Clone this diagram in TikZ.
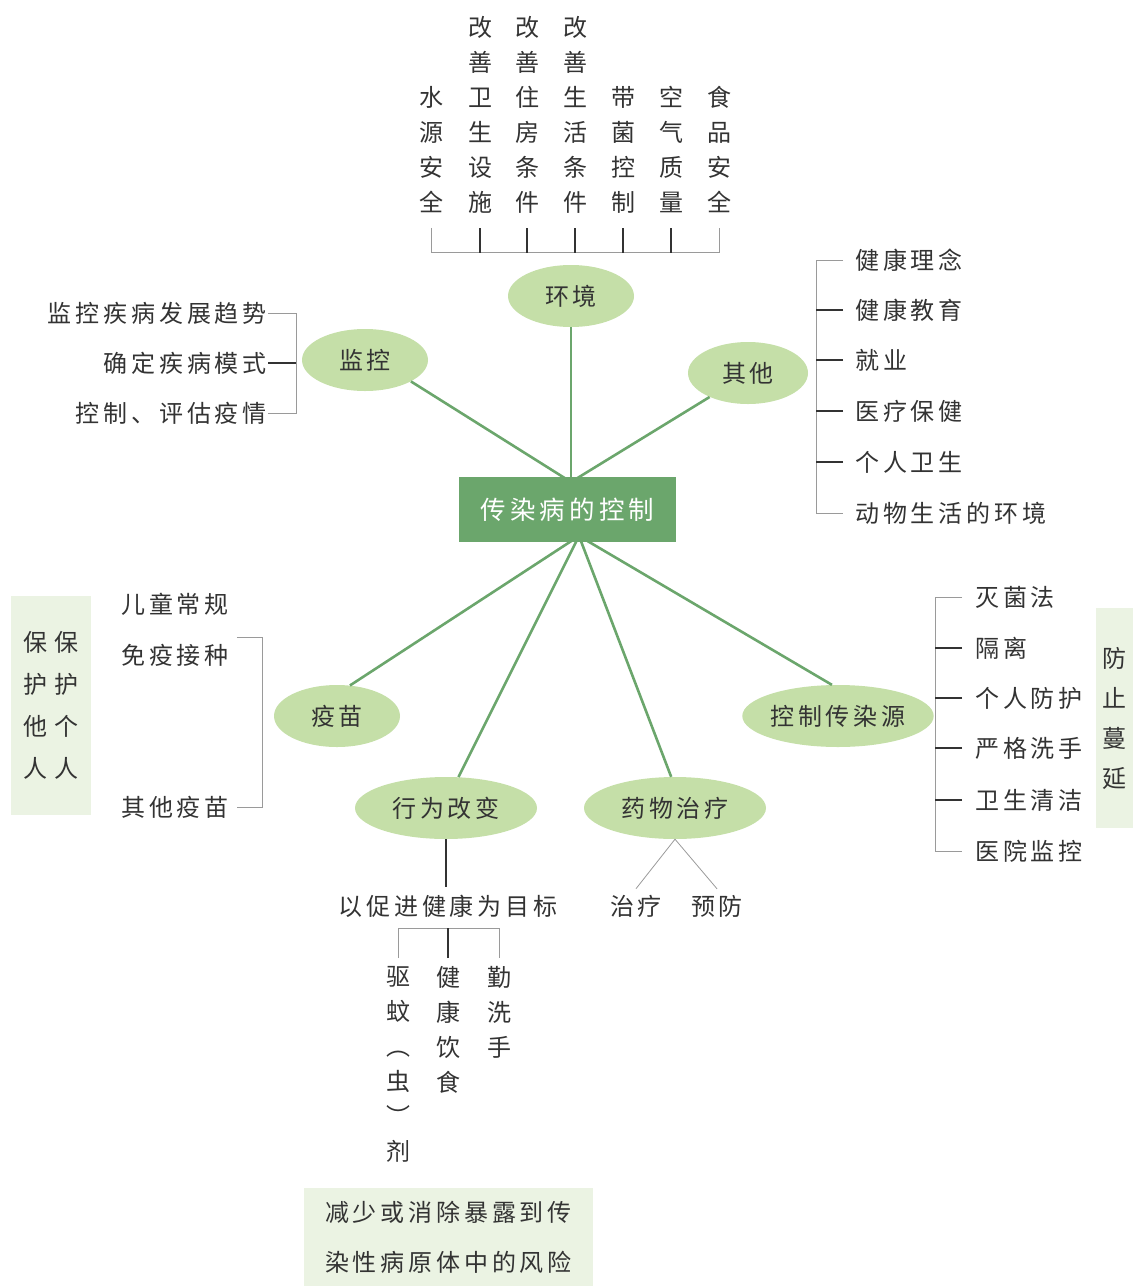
\documentclass[tikz,border=0pt]{standalone}
\usepackage{fontspec}
\setmainfont{Noto Sans CJK SC}[LetterSpace=16]
\usetikzlibrary{shapes.geometric}
\definecolor{rootgreen}{HTML}{6BA66C}
\definecolor{leafgreen}{HTML}{C5DFA8}
\definecolor{notegreen}{HTML}{EBF3E3}
\definecolor{bargray}{HTML}{9A9A9A}
\definecolor{ink}{HTML}{333333}

\begin{document}
\begin{tikzpicture}[x=1pt,y=-1pt,
  leaf/.style={ellipse, fill=leafgreen, minimum height=62, inner sep=0,
    text=ink, font=\fontsize{24}{28}\selectfont},
  label/.style={inner sep=0, text=ink, font=\fontsize{24}{28}\selectfont},
  column/.style={label, align=center, anchor=north, font=\fontsize{24}{35}\selectfont},
  note/.style={fill=notegreen, inner sep=0, text=ink, align=center},
  branch/.style={draw=rootgreen, line width=2.6pt},
  bracket/.style={draw=bargray, line width=1pt},
  tick/.style={draw=ink, line width=1.3pt},
  twig/.style={draw=bargray, line width=0.8pt}]
  \useasboundingbox (0,0) rectangle (1133,1286);
  % Ellipses
  \node[leaf, minimum width=126] (env) at (571,296) {环境};
  \node[leaf, minimum width=126] (mon) at (365,360) {监控};
  \node[leaf, minimum width=120] (oth) at (748,373) {其他};
  \node[leaf, minimum width=126] (vac) at (337,716) {疫苗};
  \node[leaf, minimum width=182] (beh) at (446,808) {行为改变};
  \node[leaf, minimum width=182] (med) at (675,808) {药物治疗};
  \node[leaf, minimum width=184] (src) at (838,716) {控制传染源};
  % Branches meet behind the root box
  \coordinate (hubT) at (571,482);
  \coordinate (hubB) at (579,536);
  \draw[branch] (env.south) -- (hubT);
  \draw[branch] (mon.-25) -- (hubT);
  \draw[branch] (oth.212) -- (hubT);
  \draw[branch] (vac.67) -- (hubB);
  \draw[branch] (beh.68) -- (hubB);
  \draw[branch] (med.97) -- (hubB);
  \draw[branch] (src.101) -- (hubB);
  % Root
  \node[fill=rootgreen, minimum width=217, minimum height=65, inner sep=0,
    text=white, font=\fontsize{25.5}{30}\selectfont] (root) at (567.5,509.5) {传染病的控制};

  % Environment
  \node[column] (e1) at (431,86) {水\\源\\安\\全};
  \node[column] (e2) at (480,16) {改\\善\\卫\\生\\设\\施};
  \node[column] (e3) at (527,16) {改\\善\\住\\房\\条\\件};
  \node[column] (e4) at (575,16) {改\\善\\生\\活\\条\\件};
  \node[column] (e5) at (623,86) {带\\菌\\控\\制};
  \node[column] (e6) at (671,86) {空\\气\\质\\量};
  \node[column] (e7) at (719,86) {食\\品\\安\\全};
  \draw[bracket] ([yshift=-15]e1.south) -- ++(0,25) -| ([yshift=-15]e7.south);
  \foreach \n in {e2,e3,e4,e5,e6}
    \draw[tick] ([yshift=-15]\n.south) -- ++(0,25);

  % Monitoring
  \node[label, anchor=east] (m1) at (267,313) {监控疾病发展趋势};
  \node[label, anchor=east] (m2) at (267,363) {确定疾病模式};
  \node[label, anchor=east] (m3) at (267,413) {控制、评估疫情};
  \draw[bracket] ([xshift=1]m1.east) -- ++(28,0) |- ([xshift=1]m3.east);
  \draw[tick] ([xshift=1]m2.east) -- ++(28,0);

  % Other
  \node[label, anchor=west] (o1) at (855,260) {健康理念};
  \node[label, anchor=west] (o2) at (855,310) {健康教育};
  \node[label, anchor=west] (o3) at (855,360) {就业};
  \node[label, anchor=west] (o4) at (855,411) {医疗保健};
  \node[label, anchor=west] (o5) at (855,462) {个人卫生};
  \node[label, anchor=west] (o6) at (855,513) {动物生活的环境};
  \draw[bracket] ([xshift=-12]o1.west) -- ++(-27,0) |- ([xshift=-12]o6.west);
  \foreach \n in {o2,o3,o4,o5}
    \draw[tick] ([xshift=-12]\n.west) -- ++(-27,0);

  % Vaccines
  \node[label, anchor=west] (v1) at (121,604) {儿童常规};
  \node[label, anchor=west] (v2) at (121,655) {免疫接种};
  \node[label, anchor=west] (v3) at (121,807) {其他疫苗};
  \draw[bracket] ([xshift=8,yshift=18]v2.east) -- ++(26,0) |- ([xshift=8]v3.east);
  \node[note, minimum width=80, minimum height=219, font=\fontsize{24}{42}\selectfont]
    (prot) at (51,705.5) {保\hspace{7pt}保\\护\hspace{7pt}护\\他\hspace{7pt}个\\人\hspace{7pt}人};

  % Source control
  \node[label, anchor=west] (s1) at (975,597) {灭菌法};
  \node[label, anchor=west] (s2) at (975,648) {隔离};
  \node[label, anchor=west] (s3) at (975,698) {个人防护};
  \node[label, anchor=west] (s4) at (975,748) {严格洗手};
  \node[label, anchor=west] (s5) at (975,800) {卫生清洁};
  \node[label, anchor=west] (s6) at (975,851) {医院监控};
  \draw[bracket] ([xshift=-13]s1.west) -- ++(-27,0) |- ([xshift=-13]s6.west);
  \foreach \n in {s2,s3,s4,s5}
    \draw[tick] ([xshift=-13]\n.west) -- ++(-27,0);
  \node[note, minimum width=37, minimum height=220, font=\fontsize{24}{40}\selectfont]
    (spread) at (1114.5,718) {防\\止\\蔓\\延};

  % Behaviour change
  \node[label] (goal) at (448,906) {以促进健康为目标};
  \draw[tick] (beh.south) -- ([yshift=8]goal.north -| beh.south);
  \node[column] (b1) at (398,966) {驱\\蚊\\︵\\虫\\︶\\剂};
  \node[column] (b2) at (448,966) {健\\康\\饮\\食};
  \node[column] (b3) at (499,966) {勤\\洗\\手};
  \draw[bracket] ([yshift=8]b1.north) -- ++(0,-30) -| ([yshift=8]b3.north);
  \draw[tick] ([yshift=8]b2.north) -- ++(0,-30);
  \node[note, minimum width=289, minimum height=98, font=\fontsize{24}{50}\selectfont]
    (risk) at (448.5,1237) {减少或消除暴露到传\\染性病原体中的风险};

  % Medicine
  \node[label] (t1) at (636,906) {治疗};
  \node[label] (t2) at (717,906) {预防};
  \draw[twig] (med.south) -- ([yshift=6]t1.north);
  \draw[twig] (med.south) -- ([yshift=6]t2.north);
\end{tikzpicture}
\end{document}
